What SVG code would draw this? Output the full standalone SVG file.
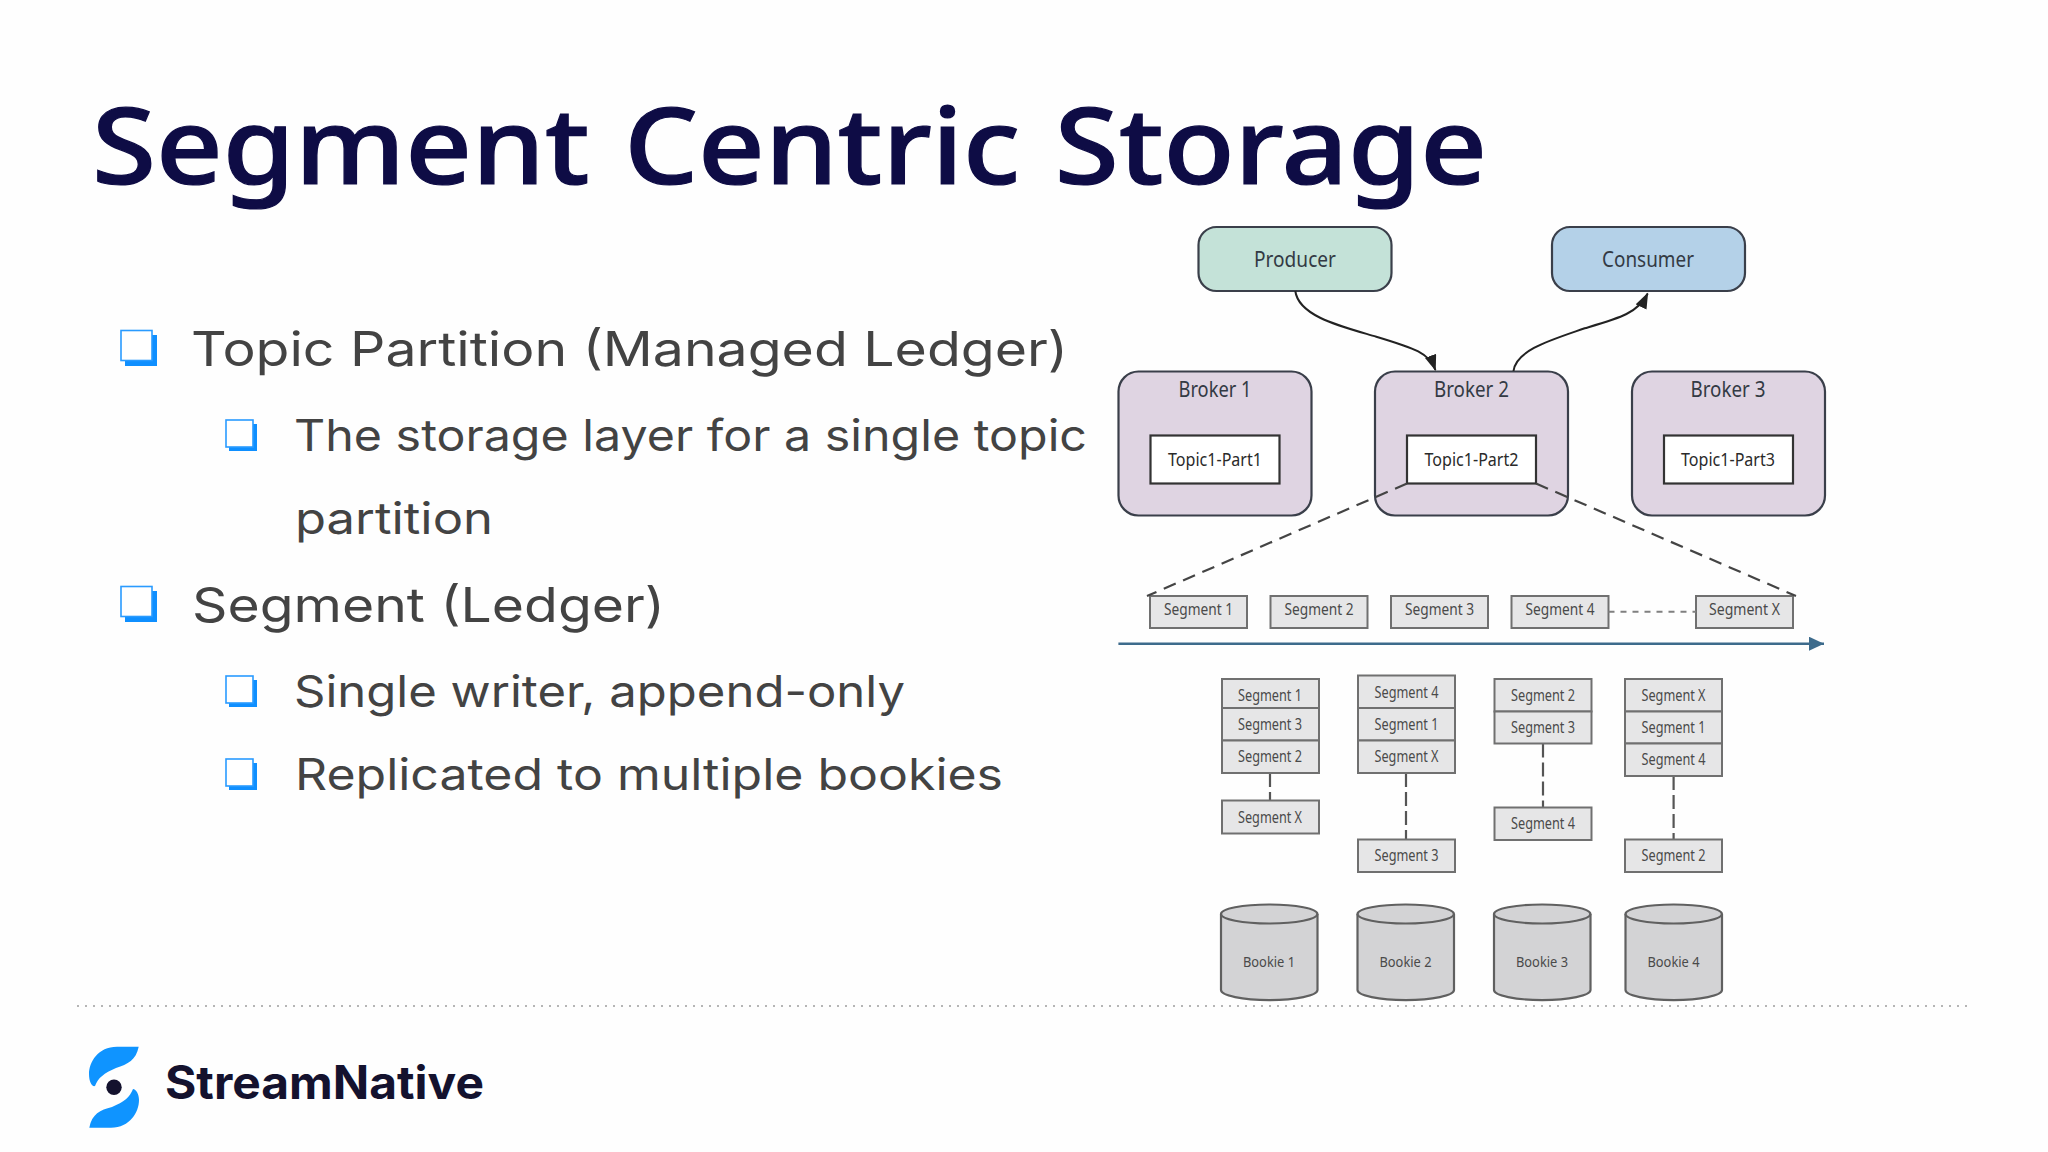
<svg xmlns="http://www.w3.org/2000/svg" width="2048" height="1152" viewBox="0 0 2048 1152">
<style>
.title{font-family:"Noto Sans","Open Sans",sans-serif;font-weight:500;font-size:106px;fill:#0e0c45;stroke:#0e0c45;stroke-width:1.2px;word-spacing:4px}
.b1{font-family:"Inter","Noto Sans",sans-serif;font-size:48px;fill:#434343}
.b2{font-family:"Inter","Noto Sans",sans-serif;font-size:44px;fill:#434343}
.brand{font-family:"Inter","Liberation Sans",sans-serif;font-weight:700;font-size:46px;fill:#14122e}
.t{font-family:"Noto Sans","Liberation Sans",sans-serif;text-anchor:middle;fill:#333a44}
.lg{font-size:21px}.md{font-size:18px;fill:#2a2a2a}.sm{font-size:15.5px;fill:#4a4a4a}.bk{font-size:14px;fill:#4a4a4a}
.node{stroke:#3a3f4a;stroke-width:2.2}
.broker{fill:#dfd4e2}.box{fill:#fff;stroke:#333;stroke-width:2.2}
.seg{fill:#e6e6e7;stroke:#707070;stroke-width:2}
.cyl{fill:#d3d3d5;stroke:#606060;stroke-width:2.2}
.dash{fill:none;stroke:#444;stroke-width:2.2;stroke-dasharray:13 8}
.vdash{fill:none;stroke:#555;stroke-width:2.2;stroke-dasharray:14 5}
.dash2{fill:none;stroke:#808080;stroke-width:2;stroke-dasharray:6 6}
.flow{fill:none;stroke:#222;stroke-width:2}
.bu{fill:#fff;stroke:#2a9bff;stroke-width:1.6}
.bs{fill:#0f8fff}
</style>
<defs>
<marker id="ah" markerUnits="userSpaceOnUse" markerWidth="18" markerHeight="16" refX="15" refY="6" orient="auto"><path d="M0 0L16 6L0 12Z" fill="#222"/></marker>
<marker id="ab" markerUnits="userSpaceOnUse" markerWidth="18" markerHeight="16" refX="15" refY="7" orient="auto"><path d="M0 0L15 7L0 14Z" fill="#3d6b8c"/></marker>
</defs>
<rect width="2048" height="1152" fill="#fefefe"/>
<text class="title" x="92" y="184" textLength="1395" lengthAdjust="spacingAndGlyphs">Segment Centric Storage</text>
<g id="bullets">
<rect class="bs" x="125" y="335" width="32" height="31"/><rect class="bu" x="121" y="330.500" width="31" height="30"/>
<text class="b1" x="191" y="366" textLength="877" lengthAdjust="spacingAndGlyphs">Topic Partition (Managed Ledger)</text>
<rect class="bs" x="229" y="424" width="28" height="27"/><rect class="bu" x="226" y="420" width="27" height="27"/>
<text class="b2" x="294" y="451" textLength="793" lengthAdjust="spacingAndGlyphs">The storage layer for a single topic</text>
<text class="b2" x="295" y="534" textLength="198" lengthAdjust="spacingAndGlyphs">partition</text>
<rect class="bs" x="125" y="591" width="32" height="31"/><rect class="bu" x="121" y="586.500" width="31" height="30"/>
<text class="b1" x="192" y="622" textLength="473" lengthAdjust="spacingAndGlyphs">Segment (Ledger)</text>
<rect class="bs" x="229" y="680" width="28" height="27"/><rect class="bu" x="226" y="676" width="27" height="27"/>
<text class="b2" x="294" y="707" textLength="611" lengthAdjust="spacingAndGlyphs">Single writer, append-only</text>
<rect class="bs" x="229" y="763" width="28" height="27"/><rect class="bu" x="226" y="759" width="27" height="27"/>
<text class="b2" x="295" y="790" textLength="708" lengthAdjust="spacingAndGlyphs">Replicated to multiple bookies</text>
</g>
<g id="producer"><rect class="node" x="1198.500" y="227" width="193" height="64" rx="18" fill="#c4e2d8"/><text class="t lg" x="1295" y="267" textLength="82" lengthAdjust="spacingAndGlyphs">Producer</text></g>
<g id="consumer"><rect class="node" x="1552" y="227" width="193" height="64" rx="18" fill="#b4d1e8"/><text class="t lg" x="1648" y="267" textLength="92" lengthAdjust="spacingAndGlyphs">Consumer</text></g>
<g id="broker1"><rect class="node broker" x="1118.500" y="371.500" width="193" height="144" rx="20"/><text class="t lg" x="1215" y="396.500" textLength="73" lengthAdjust="spacingAndGlyphs">Broker 1</text><rect class="box" x="1150.500" y="435.500" width="129" height="48"/><text class="t md" x="1215" y="466" textLength="94" lengthAdjust="spacingAndGlyphs">Topic1-Part1</text></g>
<g id="broker2"><rect class="node broker" x="1375" y="371.500" width="193" height="144" rx="20"/><text class="t lg" x="1471.500" y="396.500" textLength="75" lengthAdjust="spacingAndGlyphs">Broker 2</text><rect class="box" x="1407" y="435.500" width="129" height="48"/><text class="t md" x="1471.500" y="466" textLength="94" lengthAdjust="spacingAndGlyphs">Topic1-Part2</text></g>
<g id="broker3"><rect class="node broker" x="1632" y="371.500" width="193" height="144" rx="20"/><text class="t lg" x="1728" y="396.500" textLength="75" lengthAdjust="spacingAndGlyphs">Broker 3</text><rect class="box" x="1664" y="435.500" width="129" height="48"/><text class="t md" x="1728" y="466" textLength="94" lengthAdjust="spacingAndGlyphs">Topic1-Part3</text></g>
<g id="seq-s1"><rect class="seg" x="1150" y="596" width="97" height="32"/><text class="t sm" x="1198.500" y="615" textLength="69" lengthAdjust="spacingAndGlyphs">Segment 1</text></g>
<g id="seq-s2"><rect class="seg" x="1270.500" y="596" width="97" height="32"/><text class="t sm" x="1319" y="615" textLength="69" lengthAdjust="spacingAndGlyphs">Segment 2</text></g>
<g id="seq-s3"><rect class="seg" x="1391" y="596" width="97" height="32"/><text class="t sm" x="1439.500" y="615" textLength="69" lengthAdjust="spacingAndGlyphs">Segment 3</text></g>
<g id="seq-s4"><rect class="seg" x="1511.500" y="596" width="97" height="32"/><text class="t sm" x="1560" y="615" textLength="69" lengthAdjust="spacingAndGlyphs">Segment 4</text></g>
<g id="seq-sx"><rect class="seg" x="1696" y="596" width="97" height="32"/><text class="t sm" x="1744.500" y="615" textLength="71" lengthAdjust="spacingAndGlyphs">Segment X</text></g>
<g id="connectors">
<path class="flow" marker-end="url(#ah)" d="M1295.300 291C1298.700 316.700 1342.400 326.700 1376.300 336.700C1415 348.300 1429.600 353.300 1435.400 370"/>
<path class="flow" marker-end="url(#ah)" d="M1513.500 371C1516 350 1551 340 1584.700 328.300C1618.700 318.300 1638 313.300 1647.700 293.500"/>
<path class="dash" d="M1407 483.500L1147 596M1536 483.500L1796 596"/>
<path class="dash2" d="M1608.500 611.700H1696"/>
<path fill="none" stroke="#3d6b8c" stroke-width="2.600" marker-end="url(#ab)" d="M1118.400 643.700H1824"/>
<path class="vdash" d="M1270 773V800M1406 773V839M1543 743.500V807M1673.600 776V839"/>
</g>
<g id="bookie1-stack"><rect class="seg" x="1222" y="679" width="97" height="29"/><rect class="seg" x="1222" y="708" width="97" height="32.500"/><rect class="seg" x="1222" y="740.500" width="97" height="32.500"/><rect class="seg" x="1222" y="800.500" width="97" height="33"/>
<text class="t sm" x="1270" y="701" textLength="64" lengthAdjust="spacingAndGlyphs">Segment 1</text><text class="t sm" x="1270" y="729.500" textLength="64" lengthAdjust="spacingAndGlyphs">Segment 3</text><text class="t sm" x="1270" y="762" textLength="64" lengthAdjust="spacingAndGlyphs">Segment 2</text><text class="t sm" x="1270" y="822.500" textLength="64" lengthAdjust="spacingAndGlyphs">Segment X</text></g>
<g id="bookie2-stack"><rect class="seg" x="1358" y="675.500" width="97" height="32.500"/><rect class="seg" x="1358" y="708" width="97" height="32.500"/><rect class="seg" x="1358" y="740.500" width="97" height="32.500"/><rect class="seg" x="1358" y="839.500" width="97" height="32.500"/>
<text class="t sm" x="1406.500" y="697.500" textLength="64" lengthAdjust="spacingAndGlyphs">Segment 4</text><text class="t sm" x="1406.500" y="729.500" textLength="64" lengthAdjust="spacingAndGlyphs">Segment 1</text><text class="t sm" x="1406.500" y="762" textLength="64" lengthAdjust="spacingAndGlyphs">Segment X</text><text class="t sm" x="1406.500" y="861" textLength="64" lengthAdjust="spacingAndGlyphs">Segment 3</text></g>
<g id="bookie3-stack"><rect class="seg" x="1494.500" y="679" width="97" height="32.500"/><rect class="seg" x="1494.500" y="711.500" width="97" height="32"/><rect class="seg" x="1494.500" y="807.500" width="97" height="32.500"/>
<text class="t sm" x="1543" y="701" textLength="64" lengthAdjust="spacingAndGlyphs">Segment 2</text><text class="t sm" x="1543" y="733" textLength="64" lengthAdjust="spacingAndGlyphs">Segment 3</text><text class="t sm" x="1543" y="829" textLength="64" lengthAdjust="spacingAndGlyphs">Segment 4</text></g>
<g id="bookie4-stack"><rect class="seg" x="1625" y="679" width="97" height="32.500"/><rect class="seg" x="1625" y="711.500" width="97" height="32"/><rect class="seg" x="1625" y="743.500" width="97" height="32.500"/><rect class="seg" x="1625" y="839.500" width="97" height="32.500"/>
<text class="t sm" x="1673.500" y="701" textLength="64" lengthAdjust="spacingAndGlyphs">Segment X</text><text class="t sm" x="1673.500" y="733" textLength="64" lengthAdjust="spacingAndGlyphs">Segment 1</text><text class="t sm" x="1673.500" y="765" textLength="64" lengthAdjust="spacingAndGlyphs">Segment 4</text><text class="t sm" x="1673.500" y="861" textLength="64" lengthAdjust="spacingAndGlyphs">Segment 2</text></g>
<g id="bookie1"><path class="cyl" d="M1221 914V990A48 10 0 0 0 1317.500 990V914"/><ellipse class="cyl" cx="1269.200" cy="914" rx="48.200" ry="9.500"/><text class="t bk" x="1269" y="967" textLength="52" lengthAdjust="spacingAndGlyphs">Bookie 1</text></g>
<g id="bookie2"><path class="cyl" d="M1357.500 914V990A48 10 0 0 0 1454 990V914"/><ellipse class="cyl" cx="1405.700" cy="914" rx="48.200" ry="9.500"/><text class="t bk" x="1405.500" y="967" textLength="52" lengthAdjust="spacingAndGlyphs">Bookie 2</text></g>
<g id="bookie3"><path class="cyl" d="M1494 914V990A48 10 0 0 0 1590.500 990V914"/><ellipse class="cyl" cx="1542.200" cy="914" rx="48.200" ry="9.500"/><text class="t bk" x="1542" y="967" textLength="52" lengthAdjust="spacingAndGlyphs">Bookie 3</text></g>
<g id="bookie4"><path class="cyl" d="M1625.500 914V990A48 10 0 0 0 1722 990V914"/><ellipse class="cyl" cx="1673.700" cy="914" rx="48.200" ry="9.500"/><text class="t bk" x="1673.500" y="967" textLength="52" lengthAdjust="spacingAndGlyphs">Bookie 4</text></g>
<path d="M77 1006H1970" fill="none" stroke="#b5b5b5" stroke-width="2" stroke-dasharray="2 6"/>
<g id="logo">
<path fill="#0f94ff" d="M138.700 1046.700H117C98 1046.700 89 1062 89 1074C89 1082 92 1087 95 1086C98 1078 104 1073 116 1068C128 1064 136 1060 138.700 1046.700Z"/>
<path fill="#0f94ff" d="M89.300 1127.700H111C130 1127.700 139 1112 139 1100C139 1094 136 1089 133 1089C130 1097 124 1102 112 1107C100 1110 92 1114 89.300 1127.700Z"/>
<circle cx="114" cy="1087.300" r="7.700" fill="#14122e"/>
<text class="brand" x="165" y="1098.500" textLength="319" lengthAdjust="spacingAndGlyphs">StreamNative</text>
</g>
</svg>
